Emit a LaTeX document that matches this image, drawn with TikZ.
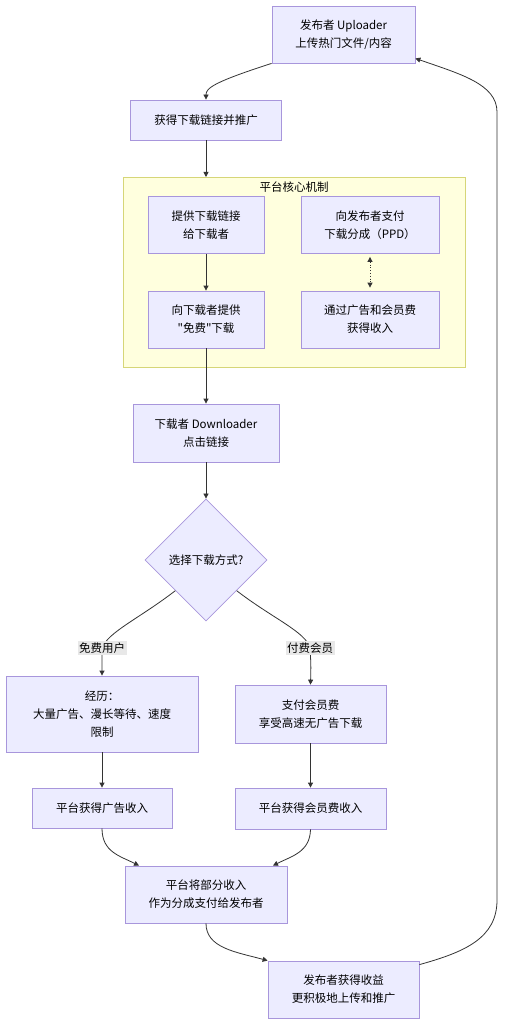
\documentclass[tikz,border=0pt]{standalone}
\usepackage{fontspec}
\usetikzlibrary{arrows.meta,shapes.geometric}
\newfontfamily\cjk{Noto Sans CJK SC}
\definecolor{flowFill}{HTML}{ECECFF}
\definecolor{flowLine}{RGB}{168,150,220}
\definecolor{flowEdge}{HTML}{333333}
\definecolor{groupFill}{HTML}{FFFFDE}
\definecolor{groupLine}{RGB}{214,214,120}
\definecolor{labelFill}{HTML}{E8E8E8}

\begin{document}
\begin{tikzpicture}[x=1pt,y=-1pt,>={Triangle[length=5pt,width=5pt]},
  box/.style={draw=flowLine,fill=flowFill,line width=0.8pt,inner sep=0pt,align=center,font=\cjk\fontsize{11.5}{18}\selectfont},
  edge/.style={draw=flowEdge,line width=0.8pt},
  elabel/.style={fill=labelFill,inner sep=1.5pt,font=\cjk\fontsize{11.5}{14}\selectfont}]
\useasboundingbox (0,0) rectangle (504,1024);
% platform group
\fill[groupFill] (123,177) rectangle (465,367);
\draw[groupLine,line width=0.8pt] (123,177) rectangle (465,367);
\node[font=\cjk\fontsize{11.5}{14}\selectfont] (grpT) at (294,187) {平台核心机制};
% uploader side
\node[box,minimum width=143,minimum height=57] (up) at (343.5,34.5) {发布者 Uploader\\上传热门文件/内容};
\node[box,minimum width=151,minimum height=40] (promo) at (206,120) {获得下载链接并推广};
% inside the group
\node[box,minimum width=116,minimum height=57] (give) at (206,225) {提供下载链接\\给下载者};
\node[box,minimum width=138,minimum height=57] (ppd) at (370,225) {向发布者支付\\下载分成（PPD）};
\node[box,minimum width=116,minimum height=57] (free) at (206,319.5) {向下载者提供\\"免费"下载};
\node[box,minimum width=138,minimum height=57] (income) at (370,319.5) {通过广告和会员费\\获得收入};
% downloader side
\node[box,minimum width=146,minimum height=58] (down) at (206,433) {下载者 Downloader\\点击链接};
\node[box,diamond,minimum width=122,minimum height=122] (choice) at (206,560) {选择下载方式?};
\node[box,minimum width=192,minimum height=76] (ads) at (102,714) {经历：\\大量广告、漫长等待、速度\\限制};
\node[box,minimum width=151,minimum height=58] (vip) at (310.5,714) {支付会员费\\享受高速无广告下载};
\node[box,minimum width=140,minimum height=40] (adInc) at (102,808) {平台获得广告收入};
\node[box,minimum width=151,minimum height=41] (vipInc) at (310.5,808.5) {平台获得会员费收入};
\node[box,minimum width=162,minimum height=57] (share) at (206,894.5) {平台将部分收入\\作为分成支付给发布者};
\node[box,minimum width=151,minimum height=57] (gain) at (343.5,989.5) {发布者获得收益\\更积极地上传和推广};
% connectors
\draw[edge,->] (up.south west) .. controls (214,82) and (206,88) .. (promo.north);
\draw[edge,->] (promo.south) -- (206,177);
\draw[edge,->] (give) -- (free);
\draw[edge,<->,dotted,shorten <=3pt,shorten >=3pt] (ppd) -- (income);
\draw[edge,->] (free) -- (down);
\draw[edge,->] (down) -- (choice);
\coordinate (lf) at (102,648);
\coordinate (lp) at (310,648);
\draw[edge,->] (choice.south west) .. controls (140,618) and (108,632) .. (lf) node[elabel]{免费用户} .. controls (102,662) .. (ads.north);
\draw[edge,->] (choice.south east) .. controls (272,618) and (306,632) .. (lp) node[elabel]{付费会员} .. controls (311,665) .. (vip.north);
\draw[edge,->] (ads) -- (adInc);
\draw[edge,->] (vip) -- (vipInc);
\draw[edge,->] (adInc.south) .. controls (102,852) and (120,856) .. ([xshift=-67pt]share.north);
\draw[edge,->] (vipInc.south) .. controls (310,852) and (292,856) .. ([xshift=67pt]share.north);
\draw[edge,->] (share.south) .. controls (206,948) and (236,952) .. (gain.north west);
% loop back to the uploader
\draw[edge,->] ([yshift=-4pt]gain.north east) .. controls (465,952) and (497,938) .. (497,900) -- (497,112) .. controls (497,84) and (460,74) .. ([yshift=5pt]up.south east);
\end{tikzpicture}
\end{document}
